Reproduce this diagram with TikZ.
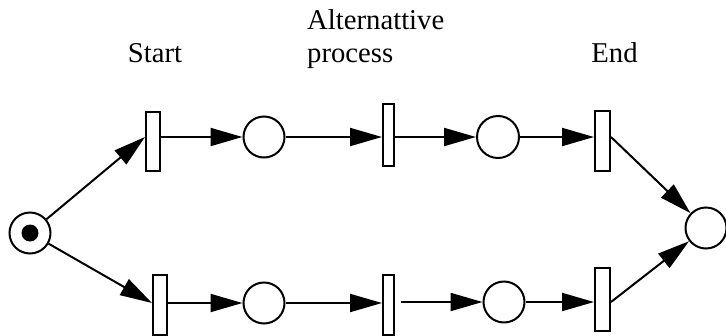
\documentclass[tikz,border=0pt]{standalone}
\usepackage{fontspec}
\setmainfont{Liberation Serif}
\usetikzlibrary{arrows.meta}
\begin{document}
\begin{tikzpicture}[x=1pt,y=-1pt,
  place/.style={circle,draw,line width=2pt,minimum size=41pt,inner sep=0pt},
  tokn/.style={circle,fill=black,minimum size=17pt,inner sep=0pt},
  trans/.style={rectangle,draw,line width=2pt,inner sep=0pt,minimum width=14pt,minimum height=60pt},
  arr/.style={-{Triangle[length=32pt,width=18pt]},line width=2pt},
  lbl/.style={font=\fontsize{28.7}{33}\selectfont,inner sep=0pt}]
\useasboundingbox (0,0) rectangle (726,335);
% places
\node[place] (P0) at (30,233) {};
\node[tokn] (tok) at (30,233) {};
\node[place] (P1) at (264,137) {};
\node[place,minimum size=42pt] (P2) at (498,137) {};
\node[place] (P1b) at (264,303) {};
\node[place] (P2b) at (504,302) {};
\node[place] (Pend) at (706,228) {};
% transitions
\node[trans,minimum height=59pt] (T1) at (153,141.5) {};
\node[trans,minimum width=11pt,minimum height=62pt] (T2) at (388.5,135) {};
\node[trans,minimum width=15pt] (T3) at (602.5,141) {};
\node[trans] (T1b) at (160,305) {};
\node[trans,minimum width=11pt] (T2b) at (388.5,305) {};
\node[trans,minimum width=15pt,minimum height=63pt] (T3b) at (602.5,299.5) {};
% labels
\node[lbl,anchor=base] (start) at (155,62) {Start};
\node[lbl,anchor=base west,align=left] (alt) at (307,62) {Alternattive\\process};
\node[lbl,anchor=base] (end) at (614.5,62) {End};
% arcs top
\draw[arr] (P0) -- (T1.west |- P1.center);
\draw[arr] (T1.east |- P1.center) -- (P1);
\draw[arr] (P1) -- (T2.west |- P1.center);
\draw[arr] (T2.east |- P2.center) -- (P2);
\draw[arr] (P2) -- (T3.west |- P2.center);
\draw[arr] (T3.east |- P2.center) -- (Pend);
% arcs bottom
\draw[arr] (P0) -- (T1b.west |- P1b.center);
\draw[arr] (T1b.east |- P1b.center) -- (P1b);
\draw[arr] (P1b) -- (T2b.west |- P1b.center);
\draw[arr,shorten <=6pt] (T2b.east |- P2b.center) -- (P2b);
\draw[arr] (P2b) -- (T3b.west |- P2b.center);
\draw[arr] (T3b.east |- P2b.center) -- (Pend);
\end{tikzpicture}
\end{document}
